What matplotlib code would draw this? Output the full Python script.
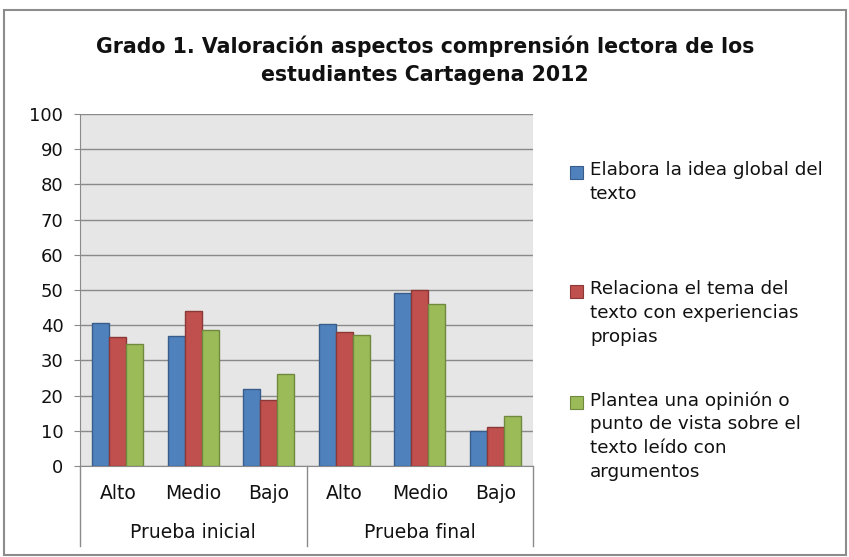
import numpy as np
from matplotlib import pyplot as plt
from matplotlib.patches import Rectangle

plt.rcParams['font.family'] = ['DejaVu Sans']

# Datos
categorias = ["Alto", "Medio", "Bajo", "Alto", "Medio", "Bajo"]
grupos = ["Prueba inicial", "Prueba final"]
series = [
    "Elabora la idea global del\ntexto",
    "Relaciona el tema del\ntexto con experiencias\npropias",
    "Plantea una opinión o\npunto de vista sobre el\ntexto leído con\nargumentos",
]
elabora = [40.5, 36.8, 21.8, 40.3, 49.1, 10.0]
relaciona = [36.7, 43.9, 18.7, 38.0, 49.9, 11.0]
plantea = [34.6, 38.5, 26.2, 37.1, 46.0, 14.1]

colores = ["#4F81BD", "#C0504D", "#9BBB59"]
bordes = ["#385D8A", "#8C3836", "#71893F"]

W, H = 849, 557
fig = plt.figure(figsize=(W / 100, H / 100), dpi=100)

# marco exterior
fig.patches.append(Rectangle((4 / W, 2 / H), 842 / W, 545 / H, transform=fig.transFigure,
                             fill=False, edgecolor="#8c8c8c", linewidth=1.5))

ax = fig.add_axes([80 / W, (H - 466) / H, 453 / W, 352 / H])
ax.set_facecolor("#e6e6e6")

x = np.arange(len(categorias)) + 0.5
ancho = 0.225
for i, vals in enumerate([elabora, relaciona, plantea]):
    ax.bar(x + (i - 1) * ancho, vals, ancho, color=colores[i], edgecolor=bordes[i],
           linewidth=1, zorder=3)

ax.set_xlim(0, 6)
ax.set_ylim(0, 100)
ax.set_yticks(range(0, 101, 10))
ax.yaxis.grid(True, color="#8a8a8a", linewidth=1, zorder=0)
ax.set_xticks([])
ax.tick_params(axis="y", length=4, color="#8a8a8a", labelsize=13, pad=8, labelcolor="#111111")
for s in ["top", "right"]:
    ax.spines[s].set_visible(False)
ax.spines["left"].set_color("#8a8a8a")
ax.spines["bottom"].set_color("#8a8a8a")

# etiquetas de categoria y grupo
trans = ax.get_xaxis_transform()
for xi, c in zip(x, categorias):
    ax.text(xi, -0.077, c, transform=trans, ha="center", va="center", fontsize=13.5, color="#111111")
for g, gi in enumerate(grupos):
    ax.text(1.5 + 3 * g, -0.19, gi, transform=trans, ha="center", va="center", fontsize=13.5,
            color="#111111")
for xd in [0, 3, 6]:
    ax.plot([xd, xd], [0, -0.227], transform=trans, color="#8a8a8a", linewidth=1, clip_on=False)

# titulo
fig.text(425 / W, 1 - 60 / H,
         "Grado 1. Valoración aspectos comprensión lectora de los\nestudiantes Cartagena 2012",
         ha="center", va="center", fontsize=14.8, fontweight="bold", linespacing=1.5, color="#111111")

# leyenda
tops = [172, 291, 402]
for i, lab in enumerate(series):
    y0 = tops[i]
    fig.patches.append(Rectangle((570 / W, (H - y0 - 6.5) / H), 13 / W, 13 / H,
                                 transform=fig.transFigure, facecolor=colores[i],
                                 edgecolor=bordes[i], linewidth=0.8))
    fig.text(590 / W, (H - y0 + 11) / H, lab, ha="left", va="top", fontsize=13.2,
             linespacing=1.42, color="#111111")

fig.savefig("out.png", dpi=100)
